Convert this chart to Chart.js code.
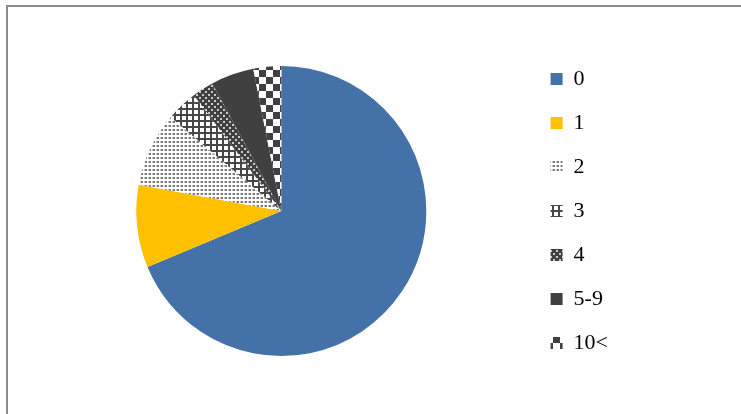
<!DOCTYPE html>
<html>
<head>
<meta charset="utf-8">
<script src="https://cdn.jsdelivr.net/npm/chart.js@4/dist/chart.umd.min.js"></script>
<style>
  html, body { margin: 0; padding: 0; background: #fff; overflow: hidden; }
  #frame {
    position: absolute; left: 6px; top: 5px;
    width: 800px; height: 500px;
    border: 2px solid #8c8c8c;
  }
  #wrap { position: absolute; left: 0; top: 0; width: 741px; height: 414px; }
</style>
</head>
<body>
<div id="frame"></div>
<div id="wrap"><canvas id="myChart"></canvas></div>
<script>
// share of answers per group
var categories = ['0', '1', '2', '3', '4', '5-9', '10<'];
var shares = [68.7, 9.2, 8.3, 3.5, 2.4, 4.8, 3.1];

function makePattern(size, paint) {
    var c = document.createElement('canvas');
    c.width = size;
    c.height = size;
    var g = c.getContext('2d');
    paint(g, size);
    return document.getElementById('myChart').getContext('2d').createPattern(c, 'repeat');
}

var dark = '#404040';

// fine gray dots
var dots = makePattern(4, function (g) {
    g.fillStyle = '#ffffff'; g.fillRect(0, 0, 4, 4);
    g.fillStyle = '#7a7a7a'; g.fillRect(1, 1, 2, 2);
    g.fillStyle = '#c4c4c4'; g.fillRect(0, 1, 1, 2);
});
// square grid
var grid = makePattern(6, function (g) {
    g.fillStyle = '#ffffff'; g.fillRect(0, 0, 6, 6);
    g.fillStyle = '#474747'; g.fillRect(0, 0, 6, 2); g.fillRect(0, 0, 2, 6);
});
// dark with light dots
var darkDots = makePattern(6, function (g) {
    g.fillStyle = dark; g.fillRect(0, 0, 6, 6);
    g.fillStyle = '#c8c8c8'; g.fillRect(1, 1, 2, 2); g.fillRect(4, 4, 2, 2);
});
// large checkerboard
var checker = makePattern(14, function (g) {
    g.fillStyle = '#ffffff'; g.fillRect(0, 0, 14, 14);
    g.fillStyle = dark; g.fillRect(7, 0, 7, 7); g.fillRect(0, 7, 7, 7);
});

var fills = ['#4472a8', '#ffc000', dots, grid, darkDots, dark, checker];

new Chart(document.getElementById('myChart'), {
    type: 'pie',
    data: {
        labels: categories,
        datasets: [{
            data: shares,
            backgroundColor: fills,
            borderWidth: 0,
            radius: 145
        }]
    },
    options: {
        responsive: true,
        maintainAspectRatio: false,
        animation: false,
        layout: { padding: { left: 34, right: 123, top: 8, bottom: 0 } },
        plugins: {
            tooltip: { enabled: false },
            legend: {
                position: 'right',
                labels: {
                    boxWidth: 12,
                    boxHeight: 12,
                    padding: 22,
                    color: '#000',
                    font: { family: '"Liberation Serif", "Times New Roman", serif', size: 22 }
                }
            }
        }
    }
});
</script>
</body>
</html>
